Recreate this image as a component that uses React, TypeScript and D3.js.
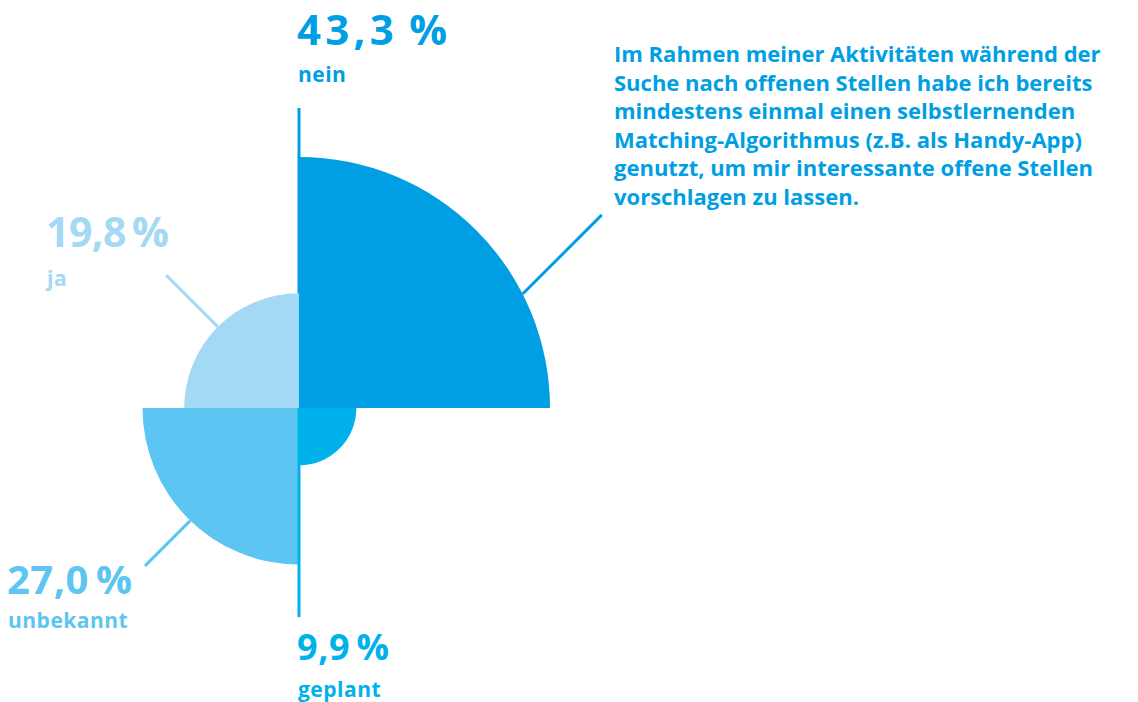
import { useRef, useEffect } from 'react'
import * as d3 from 'd3'

// Polar-area quarters, clockwise from 12 o'clock
const categories = ['nein', 'geplant', 'unbekannt', 'ja']
const values = [43.3, 9.9, 27.0, 19.8]
const valueLabels = ['43,3\u2009%', '9,9\u2009%', '27,0\u2009%', '19,8\u2009%']
const colors = ['#009fe3', '#00b1eb', '#5dc5f1', '#a4d9f6']

const questionLines = [
  'Im Rahmen meiner Aktivitäten während der',
  'Suche nach offenen Stellen habe ich bereits',
  'mindestens einmal einen selbstlernenden',
  'Matching-Algorithmus (z.B. als Handy-App)',
  'genutzt, um mir interessante offene Stellen',
  'vorschlagen zu lassen.',
]

const W = 1138
const H = 702
const FONT = '"Open Sans", Lato, sans-serif'

const App = () => {
  const svgRef = useRef<SVGSVGElement>(null)

  useEffect(() => {
    if (!svgRef.current) return
    const svg = d3.select(svgRef.current)
    svg.selectAll('*').remove()

    const cx = 299
    const cy = 408

    const r = d3.scaleLinear()
      .domain([0, d3.max(values) as number])
      .range([0, 251])

    const g = svg.append('g').attr('transform', `translate(${cx},${cy})`)

    // axis line behind the top wedge
    g.append('line')
      .attr('x1', 0).attr('x2', 0)
      .attr('y1', -300).attr('y2', 0)
      .attr('stroke', colors[0])
      .attr('stroke-width', 3)

    const arc = d3.arc<number>()
      .innerRadius(0)
      .outerRadius((d) => r(d))
      .startAngle((_, i) => (i * Math.PI) / 2)
      .endAngle((_, i) => ((i + 1) * Math.PI) / 2)

    g.selectAll('path.wedge')
      .data(values)
      .join('path')
      .attr('class', 'wedge')
      .attr('d', (d, i) => arc(d, i) as string)
      .attr('fill', (_, i) => colors[i])

    // axis line below, on top of wedges
    g.append('line')
      .attr('x1', 0).attr('x2', 0)
      .attr('y1', 0).attr('y2', 209)
      .attr('stroke', colors[1])
      .attr('stroke-width', 3)

    // leader lines: [category index, angle on arc (deg), direction (deg), length]
    const leaders: [number, number, number, number][] = [
      [0, 63, 45, 112],
      [3, 315, 315, 73],
      [2, 224, 225, 64],
    ]
    leaders.forEach(([i, a, dir, len]) => {
      const ar = (a * Math.PI) / 180
      const dr = (dir * Math.PI) / 180
      const x1 = r(values[i]) * Math.sin(ar)
      const y1 = -r(values[i]) * Math.cos(ar)
      g.append('line')
        .attr('x1', x1).attr('y1', y1)
        .attr('x2', x1 + len * Math.sin(dr))
        .attr('y2', y1 - len * Math.cos(dr))
        .attr('stroke', colors[i])
        .attr('stroke-width', 3)
    })

    // value + category labels: x, value baseline, label baseline, size, width
    const labelLayout: [number, number, number, number, number][] = [
      [297, 45, 82, 42, 150],
      [297, 660, 697, 36, 92],
      [7, 594, 628, 40, 125],
      [46, 247, 286, 41, 123],
    ]
    categories.forEach((c, i) => {
      const [x, y, ly, fs, tw] = labelLayout[i]
      svg.append('text')
        .attr('x', x).attr('y', y)
        .attr('fill', colors[i])
        .attr('font-family', FONT)
        .attr('font-weight', 700)
        .attr('font-size', fs)
        .attr('textLength', tw)
        .attr('lengthAdjust', 'spacing')
        .text(valueLabels[i])
      svg.append('text')
        .attr('x', x + 1).attr('y', ly)
        .attr('fill', colors[i])
        .attr('font-family', FONT)
        .attr('font-weight', 700)
        .attr('font-size', 21)
        .attr('letter-spacing', 0.5)
        .text(c)
    })

    svg.append('text')
      .attr('x', 614)
      .attr('y', 62)
      .attr('fill', colors[0])
      .attr('font-family', FONT)
      .attr('font-weight', 700)
      .attr('font-size', 22)
      .selectAll('tspan')
      .data(questionLines)
      .join('tspan')
      .attr('x', 614)
      .attr('dy', (_, i) => (i === 0 ? 0 : 28.6))
      .text((d) => d)
  }, [])

  return (
    <svg
      ref={svgRef}
      width={W}
      height={H}
      style={{ position: 'absolute', left: 0, top: 0, background: '#fff' }}
    />
  )
}

export default App
